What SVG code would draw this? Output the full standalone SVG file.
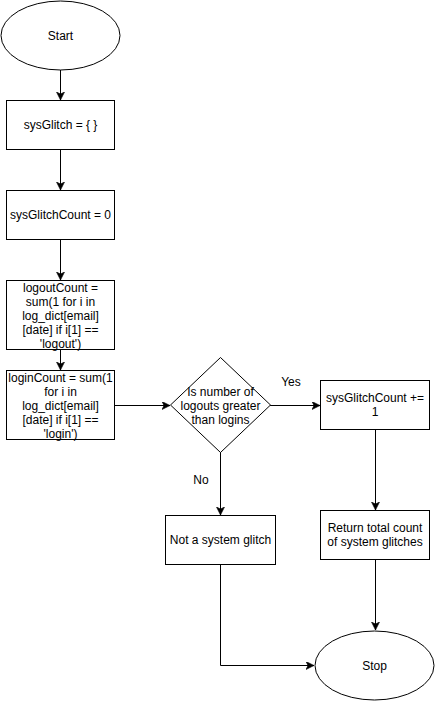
<svg xmlns="http://www.w3.org/2000/svg" width="435" height="701" viewBox="0 0 435 701">
<style>
.s{fill:#fff;stroke:#000;stroke-width:1}
.t{font-family:"Liberation Sans",Arial,Helvetica,sans-serif;font-size:12px;fill:#000;text-anchor:middle}
.c{fill:none;stroke:#000;stroke-width:1}
</style>
<defs>
<marker id="ah" markerUnits="userSpaceOnUse" markerWidth="10" markerHeight="10" refX="8" refY="4" orient="auto">
<path d="M0,0 L8,4 L0,8 L2,4 Z" fill="#000" stroke="#000" stroke-width="0.6"/>
</marker>
</defs>
<rect width="435" height="701" fill="#fff"/>
<g id="connectors">
<path class="c" d="M60.5,70 V100" marker-end="url(#ah)"/>
<path class="c" d="M60.5,150 V190" marker-end="url(#ah)"/>
<path class="c" d="M60.5,240 V280" marker-end="url(#ah)"/>
<path class="c" d="M60.5,350 V370" marker-end="url(#ah)"/>
<path class="c" d="M114.5,405.5 H170" marker-end="url(#ah)"/>
<path class="c" d="M270,405.5 H320" marker-end="url(#ah)"/>
<path class="c" d="M220.5,452 V515" marker-end="url(#ah)"/>
<path class="c" d="M375.5,430 V510" marker-end="url(#ah)"/>
<path class="c" d="M375.5,560 V630" marker-end="url(#ah)"/>
<path class="c" d="M220.5,565 V665.5 H314" marker-end="url(#ah)"/>
<text class="t" x="291" y="386">Yes</text>
<text class="t" x="201" y="484">No</text>
</g>
<g id="start">
<ellipse class="s" cx="60.5" cy="35.5" rx="59.5" ry="34.5"/>
<text class="t" x="60.5" y="40">Start</text>
</g>
<g id="sysGlitch">
<rect class="s" x="6.5" y="100.5" width="108" height="49"/>
<text class="t" x="60.5" y="129">sysGlitch = { }</text>
</g>
<g id="sysGlitchCount">
<rect class="s" x="6.5" y="190.5" width="108" height="49"/>
<text class="t" x="60.5" y="219">sysGlitchCount = 0</text>
</g>
<g id="logoutCount">
<rect class="s" x="6.5" y="280.5" width="108" height="69"/>
<text class="t" x="60.5" y="292">logoutCount =</text>
<text class="t" x="60.5" y="306">sum(1 for i in</text>
<text class="t" x="60.5" y="320">log_dict[email]</text>
<text class="t" x="60.5" y="334">[date] if i[1] ==</text>
<text class="t" x="60.5" y="348">'logout')</text>
</g>
<g id="loginCount">
<rect class="s" x="6.5" y="370.5" width="108" height="69"/>
<text class="t" x="60.5" y="382">loginCount = sum(1</text>
<text class="t" x="60.5" y="396">for i in</text>
<text class="t" x="60.5" y="410">log_dict[email]</text>
<text class="t" x="60.5" y="424">[date] if i[1] ==</text>
<text class="t" x="60.5" y="438">'login')</text>
</g>
<g id="decision">
<polygon class="s" points="220.5,357.5 270.5,405 220.5,452.5 170.5,405"/>
<text class="t" x="220.5" y="396">Is number of</text>
<text class="t" x="220.5" y="410">logouts greater</text>
<text class="t" x="220.5" y="424">than logins</text>
</g>
<g id="increment">
<rect class="s" x="320.5" y="380.5" width="109" height="49"/>
<text class="t" x="375" y="402">sysGlitchCount +=</text>
<text class="t" x="375" y="416">1</text>
</g>
<g id="notGlitch">
<rect class="s" x="165.5" y="515.5" width="110" height="49"/>
<text class="t" x="220.5" y="544">Not a system glitch</text>
</g>
<g id="returnTotal">
<rect class="s" x="320.5" y="510.5" width="109" height="49"/>
<text class="t" x="375" y="532">Return total count</text>
<text class="t" x="375" y="546">of system glitches</text>
</g>
<g id="stop">
<ellipse class="s" cx="374.5" cy="665.5" rx="59.5" ry="34.5"/>
<text class="t" x="374.5" y="670">Stop</text>
</g>
</svg>
